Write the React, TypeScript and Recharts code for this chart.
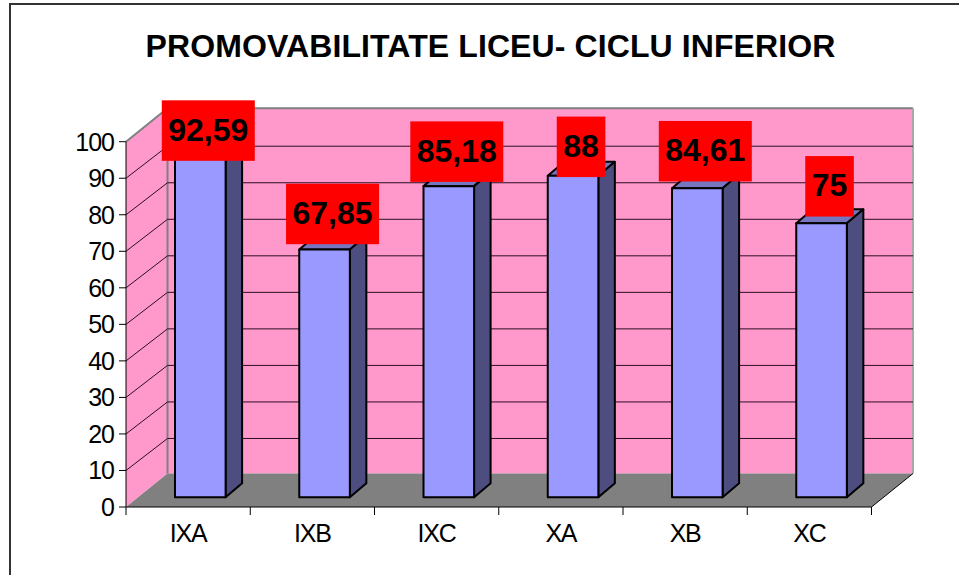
import { Bar, BarChart, CartesianGrid, Customized, LabelList, XAxis, YAxis, usePlotArea } from "recharts";

const classes = ["IXA", "IXB", "IXC", "XA", "XB", "XC"];
const promoted = [92.59, 67.85, 85.18, 88, 84.61, 75];
const yTicks = [0, 10, 20, 30, 40, 50, 60, 70, 80, 90, 100];
const labelLift = [28.5, 35.5, 34.5, 29, 37, 37];

const chartData = classes.map((name, i) => ({ name, value: promoted[i] }));

const WIDTH = 959;
const HEIGHT = 575;
const FONT = "'Liberation Sans', Arial, sans-serif";
// offsets of the fake 3D box
const WALL_DX = 41.5;
const WALL_DY = 33.5;
const GRID_DY = 32;
const BAR_SHIFT_X = 12;
const BAR_SHIFT_Y = 9.7;
const BAR_DX = 16.5;
const BAR_DY = 14;

function Walls() {
  const plot = usePlotArea();
  if (!plot) return null;
  const left = plot.x;
  const right = plot.x + plot.width;
  const top = plot.y;
  const bottom = plot.y + plot.height;
  const pts = (list: number[][]) => list.map((p) => p.join(",")).join(" ");
  return (
    <g>
      <text x={490.5} y={57} textAnchor="middle" fontFamily={FONT} fontSize={32} letterSpacing={0.1} fontWeight="bold" fill="#000">
        PROMOVABILITATE LICEU- CICLU INFERIOR
      </text>
      <rect x={left + WALL_DX} y={top - WALL_DY} width={plot.width} height={plot.height} fill="#FF99CC" />
      <polygon
        points={pts([[left, bottom], [left, top], [left + WALL_DX, top - WALL_DY], [left + WALL_DX, bottom - WALL_DY]])}
        fill="#FF99CC"
      />
      <polygon
        points={pts([[left, bottom], [right, bottom], [right + WALL_DX, bottom - WALL_DY], [left + WALL_DX, bottom - WALL_DY]])}
        fill="#808080"
      />
      <polyline
        points={pts([[left, top], [left + WALL_DX, top - WALL_DY], [right + WALL_DX, top - WALL_DY]])}
        fill="none"
        stroke="#808080"
        strokeWidth={2}
      />
      <line x1={left + WALL_DX} y1={top - WALL_DY} x2={left + WALL_DX} y2={bottom - WALL_DY} stroke="#808080" strokeWidth={2} />
      <line x1={right + WALL_DX} y1={top - WALL_DY} x2={right + WALL_DX} y2={bottom - WALL_DY} stroke="#A8A8A8" strokeWidth={2} />
      <line x1={right} y1={bottom} x2={right + WALL_DX} y2={bottom - WALL_DY} stroke="#000" />
    </g>
  );
}

function GridLine(props: any) {
  const { x1, x2, y1 } = props;
  const plot = usePlotArea();
  // the 0 and 100 lines are the edges of the walls
  if (!plot || Math.abs(y1 - plot.y) < 1 || Math.abs(y1 - plot.y - plot.height) < 1) return <g />;
  return (
    <polyline
      points={`${x1},${y1} ${x1 + WALL_DX},${y1 - GRID_DY} ${x2 + WALL_DX},${y1 - GRID_DY}`}
      fill="none"
      stroke="#2B0F1F"
      strokeWidth={1}
    />
  );
}

function Box3D(props: any) {
  const { x, y, width, height } = props;
  const fx = x + BAR_SHIFT_X;
  const fy = y - BAR_SHIFT_Y;
  const fr = fx + width;
  const fb = fy + height;
  return (
    <g stroke="#000" strokeWidth={2} strokeLinejoin="round">
      <polygon points={`${fx},${fy} ${fr},${fy} ${fr + BAR_DX},${fy - BAR_DY} ${fx + BAR_DX},${fy - BAR_DY}`} fill="#7676C0" />
      <polygon points={`${fr},${fy} ${fr + BAR_DX},${fy - BAR_DY} ${fr + BAR_DX},${fb - BAR_DY} ${fr},${fb}`} fill="#4D4D80" />
      <rect x={fx} y={fy} width={width} height={height} fill="#9999FF" />
    </g>
  );
}

function ValueBadge(props: any) {
  const { x, y, width, value, index } = props;
  const text = String(value).replace(".", ",");
  const textWidth = text.length === 5 ? 80 : 35.6;
  const w = textWidth + 13;
  const h = 60.5;
  const cx = x + BAR_SHIFT_X + width / 2 + 8;
  const cy = y - BAR_SHIFT_Y - labelLift[index];
  return (
    <g>
      <rect x={cx - w / 2} y={cy - h / 2} width={w} height={h} fill="#FF0000" />
      <text x={cx} y={cy + 10} textAnchor="middle" fontFamily={FONT} fontSize={32} fontWeight="bold" fill="#000">
        {text}
      </text>
    </g>
  );
}

function ClassTick(props: any) {
  const { x, y, payload, index } = props;
  const band = 745.5 / classes.length;
  return (
    <g>
      <line x1={x - band / 2} y1={y - 8} x2={x - band / 2} y2={y} stroke="#000" />
      {index === classes.length - 1 && <line x1={x + band / 2} y1={y - 8} x2={x + band / 2} y2={y} stroke="#000" />}
      <text x={x} y={y + 27} textAnchor="middle" fontFamily={FONT} fontSize={25} letterSpacing={-1.2} fill="#000">
        {payload.value}
      </text>
    </g>
  );
}

export default function App() {
  return (
    <div style={{ position: "absolute", left: 0, top: 0, width: WIDTH, height: HEIGHT, background: "#fff", overflow: "hidden" }}>
      <div
        style={{
          position: "absolute",
          left: 9,
          top: 3,
          width: WIDTH,
          height: HEIGHT,
          borderLeft: "2px solid #333",
          borderTop: "2px solid #333",
        }}
      />
      <div style={{ position: "absolute", left: 0, top: 0 }}>
        <BarChart
          width={WIDTH}
          height={HEIGHT}
          data={chartData}
          barSize={50.6}
          margin={{ top: 141.7, right: 87.5, bottom: 28, left: 66 }}
        >
          <Customized component={Walls} />
          <CartesianGrid horizontal={GridLine as any} vertical={false} zIndex={50} />
          <XAxis
            dataKey="name"
            height={40}
            interval={0}
            axisLine={{ stroke: "#000" }}
            tickLine={false}
            tick={ClassTick as any}
          />
          <YAxis
            width={60}
            domain={[0, 100]}
            ticks={yTicks}
            interval={0}
            axisLine={{ stroke: "#000" }}
            tickLine={{ stroke: "#000" }}
            tickSize={7}
            tickMargin={5}
            tick={{ fill: "#000", fontFamily: FONT, fontSize: 25, letterSpacing: -1 }}
          />
          <Bar dataKey="value" isAnimationActive={false} shape={Box3D as any}>
            <LabelList dataKey="value" content={ValueBadge as any} />
          </Bar>
        </BarChart>
      </div>
    </div>
  );
}
